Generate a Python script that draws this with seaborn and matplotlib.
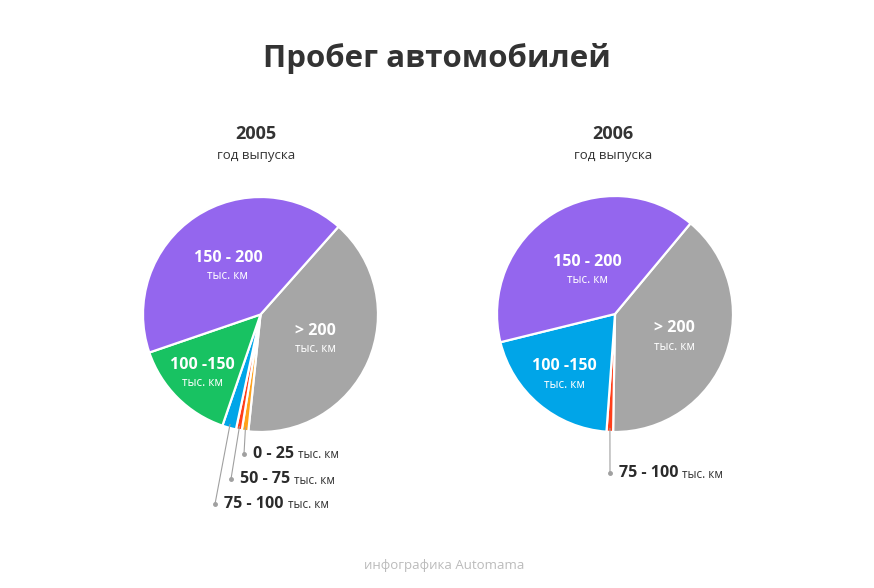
import matplotlib
matplotlib.use("Agg")
import matplotlib.pyplot as plt
import seaborn as sns
import numpy as np

sns.set_theme(style="white")
plt.rcParams['font.family'] = ['Open Sans', 'DejaVu Sans']

# ---- data ----
title = "Пробег автомобилей"
years = ["2005", "2006"]
subtitle = "год выпуска"
footer = "инфографика Automama"
unit = "тыс. км"

labels_2005 = ["> 200", "0 - 25", "50 - 75", "75 - 100", "100 -150", "150 - 200"]
values_2005 = [40.1, 0.9, 0.8, 1.9, 14.5, 41.8]
labels_2006 = ["> 200", "75 - 100", "100 -150", "150 - 200"]
values_2006 = [39.2, 0.9, 20.0, 39.9]

color_map = {"> 200": "#A6A6A6", "0 - 25": "#FFA11A", "50 - 75": "#FF3E1A",
             "75 - 100": "#FF3E1A", "100 -150": "#18C262", "150 - 200": "#9466EE"}
color_map_2005 = dict(color_map, **{"75 - 100": "#00A5E8", "100 -150": "#18C262"})
color_map_2006 = dict(color_map, **{"75 - 100": "#FF3E1A", "100 -150": "#00A5E8"})

W, H = 874, 588
fig = plt.figure(figsize=(W / 100, H / 100), dpi=100)
ax = fig.add_axes([0, 0, 1, 1])


def Y(y):
    return H - y


def fix_limits():
    ax.set_xlim(0, W)
    ax.set_ylim(0, H)
    ax.set_aspect("auto")
    ax.axis("off")


def draw_pie(cx, cy, r, labels, values, cmap, start_cw, inner, outer):
    wedges, _ = ax.pie(values, colors=[cmap[l] for l in labels], startangle=90 - start_cw,
                       counterclock=False, center=(cx, Y(cy)), radius=r,
                       wedgeprops=dict(edgecolor="white", linewidth=1.6))
    fix_limits()
    for w, lab in zip(wedges, labels):
        mid = np.deg2rad((w.theta1 + w.theta2) / 2)
        if lab in inner:
            k = inner[lab]
            gx = cx + k * r * np.cos(mid)
            gy = Y(cy) + k * r * np.sin(mid)
            ax.text(gx, gy + 8, lab, ha="center", va="center", color="white",
                    fontsize=11.5, fontweight="bold")
            ax.text(gx, gy - 10, unit, ha="center", va="center", color="white", fontsize=8.5)
        elif lab in outer:
            dx, dy = outer[lab]
            sx = cx + 0.97 * r * np.cos(mid)
            sy = Y(cy) + 0.97 * r * np.sin(mid)
            ax.plot([sx, dx], [sy, Y(dy)], color="#A0A0A0", lw=0.8, zorder=3)
            ax.plot([dx], [Y(dy)], "o", color="#A0A0A0", ms=2.5, zorder=3)
            t = ax.text(dx + 9, Y(dy), lab, ha="left", va="center", color="#2B2B2B",
                        fontsize=11.5, fontweight="bold")
            fig.canvas.draw()
            bb = t.get_window_extent(renderer=fig.canvas.get_renderer())
            ax.text(dx + 9 + bb.width + 4, Y(dy) - 1, unit, ha="left", va="center",
                    color="#333333", fontsize=8.5)


draw_pie(260.5, 314.5, 117.5, labels_2005, values_2005, color_map_2005, 41.6,
         {"> 200": 0.51, "100 -150": 0.70, "150 - 200": 0.50},
         {"0 - 25": (244, 454), "50 - 75": (231, 479), "75 - 100": (215, 504)})
draw_pie(615, 314, 118, labels_2006, values_2006, color_map_2006, 39.8,
         {"> 200": 0.54, "100 -150": 0.67, "150 - 200": 0.44},
         {"75 - 100": (610, 473)})
fix_limits()

ax.text(437, Y(58), title, ha="center", va="center", fontsize=22.5, fontweight="bold", color="#333333")
for x, yr in zip([256, 613], years):
    ax.text(x, Y(134), yr, ha="center", va="center", fontsize=13, fontweight="bold", color="#333333")
    ax.text(x, Y(155), subtitle, ha="center", va="center", fontsize=9.5, color="#333333")
ax.text(444, Y(565), footer, ha="center", va="center", fontsize=9.5, color="#BBBBBB")

fig.savefig("out.png", dpi=100, facecolor="white")
